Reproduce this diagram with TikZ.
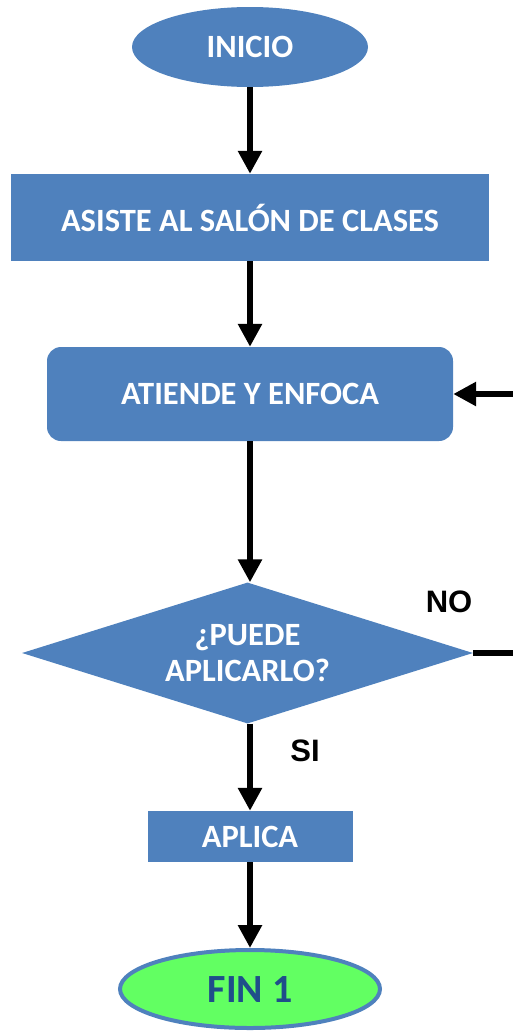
\documentclass[tikz,border=0pt]{standalone}
\usepackage{fontspec}
\setmainfont{Carlito}
\newfontfamily\arialb{Liberation Sans}
\usetikzlibrary{shapes.geometric,arrows.meta}
\definecolor{boxblue}{HTML}{4F81BD}
\definecolor{fingreen}{HTML}{62FF62}
\definecolor{fintext}{HTML}{1F4E8A}
\tikzset{
  bluebox/.style={rectangle,fill=boxblue,text=white,font=\bfseries\fontsize{32.5}{36}\selectfont,inner sep=0pt,align=center},
  ovalbox/.style={ellipse,fill=boxblue,text=white,font=\bfseries\fontsize{32.5}{36}\selectfont,inner sep=0pt},
  flow/.style={line width=6.5pt,-{Triangle[width=23pt,length=23pt]}},
  flowline/.style={line width=6.5pt},
  lbl/.style={font=\arialb\bfseries\fontsize{31}{34}\selectfont,inner sep=0pt}
}
\begin{document}
\begin{tikzpicture}[x=1pt,y=-1pt]
\useasboundingbox (0,0) rectangle (513,1031);
\node[ovalbox,minimum width=236pt,minimum height=80pt] (ini) at (250,47) {INICIO};
\node[bluebox,minimum width=478pt,minimum height=87pt] (asis) at (250,217.5) {ASISTE AL SALÓN DE CLASES};
\node[bluebox,rounded corners=14pt,minimum width=406pt,minimum height=94pt] (aten) at (250,394) {ATIENDE Y ENFOCA};
\node[diamond,fill=boxblue,text=white,font=\bfseries\fontsize{32.5}{36}\selectfont,align=center,inner sep=0pt,aspect=3.2,minimum width=451pt,minimum height=141pt] (dec) at (247.5,653) {¿PUEDE\\APLICARLO?};
\node[bluebox,minimum width=205pt,minimum height=51pt] (apl) at (250,836.5) {APLICA};
\node[ellipse,fill=fingreen,draw=boxblue,line width=4pt,text=fintext,font=\bfseries\fontsize{40}{44}\selectfont,inner sep=0pt,minimum width=260pt,minimum height=78pt] (fin) at (250,989) {FIN 1};
\node[lbl] (no) at (449,602) {NO};
\node[lbl] (si) at (305,751) {SI};
\coordinate (noend) at (513,653);
\coordinate (backin) at (513,394);
\draw[flow] (ini.south) -- (asis.north);
\draw[flow] (asis.south) -- (aten.north);
\draw[flow] (aten.south) -- (dec.north -| aten.south);
\draw[flow] (dec.south -| ini.south) -- (apl.north);
\draw[flow] (apl.south) -- (fin.north);
\draw[flowline] (dec.east) -- (noend);
\draw[flow] (backin) -- (aten.east);
\end{tikzpicture}
\end{document}
